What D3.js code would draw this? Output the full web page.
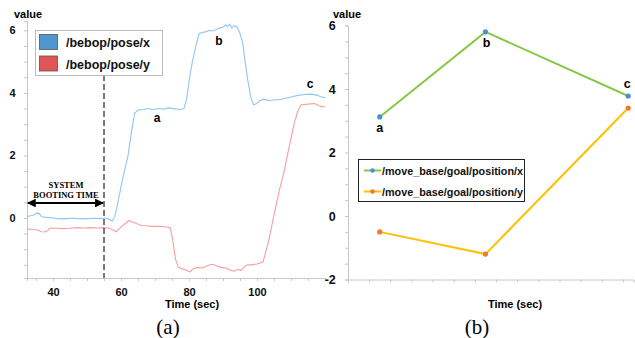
<!DOCTYPE html>
<html><head><meta charset="utf-8">
<script src="https://cdn.jsdelivr.net/npm/d3@7"></script>
<style>body{margin:0;background:#fff}svg{display:block}</style>
</head><body>
<svg id="c" width="635" height="338"></svg>
<script>
// ---------- DATA ----------
const poseX = [[32.4,0.05],[33.5,0.07],[34.5,0.1],[35.3,0.16],[36,0.14],[36.6,0.04],[38,0.02],[40,0.0],[42,-0.03],[44,-0.02],[46,-0.01],[48,-0.03],[50,-0.02],[52,-0.01],[54,-0.02],[55.5,0.0],[56.5,-0.05],[57.4,-0.1],[58.2,0.05],[59,0.45],[60,1.0],[61,1.5],[62,1.95],[63,2.7],[64,3.35],[65,3.45],[66.5,3.47],[68,3.5],[69.5,3.47],[71,3.5],[72.5,3.48],[74,3.52],[76,3.49],[77.5,3.47],[78.5,3.5],[79.3,3.8],[80.2,4.5],[81,5.0],[82,5.5],[83,5.9],[84,5.93],[85,5.96],[86,6.0],[87,5.98],[88,6.03],[89,6.08],[90,6.1],[90.8,6.18],[91.3,6.12],[92,6.2],[92.6,6.08],[93.4,6.15],[94.2,6.1],[95,5.9],[95.8,5.6],[96.5,5.0],[97.3,4.4],[98.2,3.85],[99,3.62],[99.8,3.65],[100.8,3.75],[102,3.8],[103,3.77],[104,3.75],[105,3.78],[106.5,3.78],[108,3.82],[110,3.87],[112,3.92],[114,3.95],[116,3.96],[117.5,3.93],[119,3.87],[120,3.85]];
const poseY = [[32.4,-0.35],[34,-0.37],[35.5,-0.38],[36.5,-0.44],[37.5,-0.45],[38.5,-0.4],[39.2,-0.32],[41,-0.33],[43,-0.34],[45,-0.33],[47,-0.31],[49,-0.32],[51,-0.31],[53,-0.32],[55,-0.31],[56.5,-0.33],[57.5,-0.38],[58.6,-0.44],[59.5,-0.34],[61,-0.2],[62.3,-0.08],[63.2,-0.12],[64.5,-0.18],[66,-0.24],[67.5,-0.25],[69,-0.27],[71,-0.27],[73,-0.28],[74.5,-0.32],[75.2,-0.7],[76,-1.3],[76.8,-1.57],[77.8,-1.62],[79,-1.66],[80.3,-1.73],[81.2,-1.62],[82.6,-1.58],[84,-1.6],[85.5,-1.52],[86.8,-1.48],[88,-1.53],[89.5,-1.58],[91,-1.6],[92.2,-1.68],[93.2,-1.7],[94.3,-1.64],[95.3,-1.68],[96.3,-1.56],[97.2,-1.5],[98.5,-1.5],[100,-1.47],[101.8,-1.4],[103.5,-0.7],[105,0.1],[106.5,0.85],[108,1.5],[109.5,2.3],[111,3.05],[112,3.42],[113,3.62],[115,3.64],[117,3.66],[118,3.6],[119,3.57],[120,3.55]];
const bootTime = 55;
const leftXTicks = [40, 60, 80, 100];
const leftYTicks = [0, 2, 4, 6];
const seriesA = ["/bebop/pose/x", "/bebop/pose/y"];

const goalLabels = ["a", "b", "c"];
const goalTimes = [1.5, 6.5, 13.25];
const goalX = [3.12, 5.8, 3.78];
const goalY = [-0.5, -1.2, 3.4];
const rightYTicks = [-2, 0, 2, 4, 6];
const seriesB = ["/move_base/goal/position/x", "/move_base/goal/position/y"];

// ---------- DRAW ----------
const svg = d3.select("#c");
const bold = "'Liberation Sans', Arial, sans-serif";
const axisCol = "#c8c8c8";

function styleAxis(g){
  g.selectAll("path.domain").attr("stroke", axisCol);
  g.selectAll("line").attr("stroke", axisCol);
  g.selectAll("text").attr("font-family", bold).attr("font-weight","bold").attr("fill","#111");
}

// Left panel
const xL = d3.scaleLinear().domain([32.35, 120]).range([27, 325]);
const yL = d3.scaleLinear().domain([-1.92, 6.3]).range([278, 21]);

const gxL = svg.append("g").attr("transform","translate(0,278)")
  .call(d3.axisBottom(xL).tickValues(d3.range(35, 121, 5)).tickSize(3).tickFormat(d => leftXTicks.includes(d) ? d : ""));
styleAxis(gxL); gxL.selectAll("text").attr("font-size", 11).attr("dy","1.1em");
const gyL = svg.append("g").attr("transform","translate(27,0)")
  .call(d3.axisLeft(yL).tickValues(d3.range(-1.5, 6.01, 0.5)).tickSize(3).tickFormat(d => leftYTicks.includes(d) ? d : ""));
styleAxis(gyL); gyL.selectAll("text").attr("font-size", 11).attr("dx","-0.5em");

const lineL = d3.line().x(d => xL(d[0])).y(d => yL(d[1]));
svg.append("path").datum(poseY).attr("d", lineL).attr("fill","none").attr("stroke","#f5a0a0").attr("stroke-width",1.1);
svg.append("path").datum(poseX).attr("d", lineL).attr("fill","none").attr("stroke","#92c5f2").attr("stroke-width",1.1);

// boot dashed line
svg.append("line").attr("x1", xL(bootTime)).attr("x2", xL(bootTime)).attr("y1", 75).attr("y2", 278)
  .attr("stroke","#111").attr("stroke-width",1.1).attr("stroke-dasharray","6,3");

// arrow
const defs = svg.append("defs");
defs.append("marker").attr("id","ah").attr("viewBox","0 0 10 10").attr("refX",9).attr("refY",5)
  .attr("markerWidth",4).attr("markerHeight",4).attr("orient","auto-start-reverse")
  .append("path").attr("d","M0,0L10,5L0,10z").attr("fill","#000");
svg.append("line").attr("x1", xL(32.6)).attr("x2", xL(bootTime)-1).attr("y1",203).attr("y2",203)
  .attr("stroke","#000").attr("stroke-width",2.2).attr("marker-start","url(#ah)").attr("marker-end","url(#ah)");
svg.append("text").attr("x",66).attr("y",188).attr("text-anchor","middle").attr("font-family","'Liberation Serif', serif")
  .attr("font-weight","bold").attr("font-size",8.5).text("SYSTEM");
svg.append("text").attr("x",66).attr("y",198).attr("text-anchor","middle").attr("font-family","'Liberation Serif', serif")
  .attr("font-weight","bold").attr("font-size",8.5).text("BOOTING TIME");

// labels a b c on left
svg.append("text").attr("x",157).attr("y",122).attr("text-anchor","middle").attr("font-family",bold).attr("font-weight","bold").attr("font-size",12).text("a");
svg.append("text").attr("x",219).attr("y",45).attr("text-anchor","middle").attr("font-family",bold).attr("font-weight","bold").attr("font-size",12).text("b");
svg.append("text").attr("x",310).attr("y",88).attr("text-anchor","middle").attr("font-family",bold).attr("font-weight","bold").attr("font-size",12).text("c");

// legend left
const lgA = svg.append("g");
lgA.append("rect").attr("x",35.5).attr("y",30.5).attr("width",127).attr("height",45).attr("fill","#fff").attr("stroke","#bbb");
const swCols = ["#4f98cf","#e05555"];
seriesA.forEach((s,i) => {
  lgA.append("rect").attr("x",39.5).attr("y",34.5 + i*21.5).attr("width",18).attr("height",15).attr("fill",swCols[i]).attr("stroke","#555").attr("stroke-width",0.8);
  lgA.append("text").attr("x",66).attr("y",47 + i*21.5).attr("font-family",bold).attr("font-weight","bold").attr("font-size",12.5).attr("fill","#111").text(s);
});

svg.append("text").attr("x",14).attr("y",18).attr("font-family",bold).attr("font-weight","bold").attr("font-size",11).text("value");
svg.append("text").attr("x",192).attr("y",308).attr("text-anchor","middle").attr("font-family",bold).attr("font-weight","bold").attr("font-size",11).text("Time (sec)");
svg.append("text").attr("x",168).attr("y",334).attr("text-anchor","middle").attr("font-family","'Liberation Serif', serif").attr("font-size",21).text("(a)");

// Right panel
const xR = d3.scaleLinear().domain([0, 13.5]).range([348, 633.5]);
const yR = d3.scaleLinear().domain([-2, 6]).range([279.5, 25.5]);
const gxR = svg.append("g").attr("transform","translate(0,279.5)")
  .call(d3.axisBottom(xR).tickValues(d3.range(0, 14, 1)).tickSize(3).tickFormat(""));
styleAxis(gxR);
const gyR = svg.append("g").attr("transform","translate(348,0)")
  .call(d3.axisLeft(yR).tickValues(d3.range(-2, 6.01, 0.5)).tickSize(3).tickFormat(d => rightYTicks.includes(d) ? d : ""));
styleAxis(gyR); gyR.selectAll("text").attr("font-size", 12.5).attr("dx","-0.5em");

const ptsX = goalTimes.map((t,i) => [t, goalX[i]]);
const ptsY = goalTimes.map((t,i) => [t, goalY[i]]);
const lineR = d3.line().x(d => xR(d[0])).y(d => yR(d[1]));
svg.append("path").datum(ptsX).attr("d", lineR).attr("fill","none").attr("stroke","#86c846").attr("stroke-width",2);
svg.append("path").datum(ptsY).attr("d", lineR).attr("fill","none").attr("stroke","#ffc000").attr("stroke-width",2);
svg.selectAll("circle.px").data(ptsX).join("circle").attr("class","px").attr("cx",d=>xR(d[0])).attr("cy",d=>yR(d[1])).attr("r",2.6).attr("fill","#4a90d9");
svg.selectAll("circle.py").data(ptsY).join("circle").attr("class","py").attr("cx",d=>xR(d[0])).attr("cy",d=>yR(d[1])).attr("r",2.6).attr("fill","#f07a30");
const lblOff = [[0,15],[1,15],[-1,-8]];
ptsX.forEach((d,i) => {
  svg.append("text").attr("x", xR(d[0]) + lblOff[i][0]).attr("y", yR(d[1]) + lblOff[i][1]).attr("text-anchor","middle")
    .attr("font-family",bold).attr("font-weight","bold").attr("font-size",12.5).text(goalLabels[i]);
});

// legend right
const lgB = svg.append("g");
lgB.append("rect").attr("x",358.5).attr("y",159.5).attr("width",166).attr("height",42).attr("fill","#fff").attr("stroke","#222");
const lnCols = ["#86c846","#ffc000"], dotCols = ["#4a90d9","#f07a30"];
seriesB.forEach((s,i) => {
  const yy = 170.5 + i*21;
  lgB.append("line").attr("x1",364).attr("x2",381).attr("y1",yy).attr("y2",yy).attr("stroke",lnCols[i]).attr("stroke-width",2);
  lgB.append("circle").attr("cx",372.5).attr("cy",yy).attr("r",2.3).attr("fill",dotCols[i]);
  lgB.append("text").attr("x",382).attr("y",yy+4).attr("font-family",bold).attr("font-weight","bold").attr("font-size",10.8).attr("fill","#111").text(s);
});

svg.append("text").attr("x",333).attr("y",18).attr("font-family",bold).attr("font-weight","bold").attr("font-size",11).text("value");
svg.append("text").attr("x",515).attr("y",308).attr("text-anchor","middle").attr("font-family",bold).attr("font-weight","bold").attr("font-size",11).text("Time (sec)");
svg.append("text").attr("x",477).attr("y",334).attr("text-anchor","middle").attr("font-family","'Liberation Serif', serif").attr("font-size",21).text("(b)");
</script>
</body></html>
